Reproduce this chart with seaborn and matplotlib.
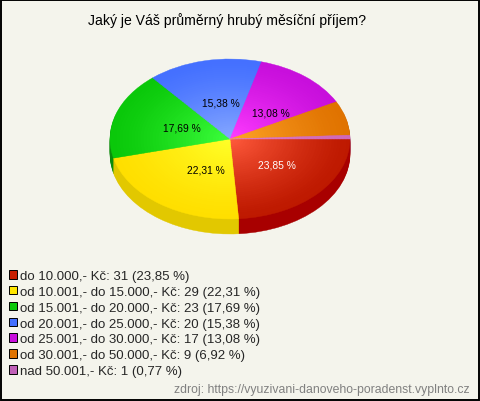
import numpy as np
import matplotlib
matplotlib.use("Agg")
import matplotlib.pyplot as plt
from matplotlib.colors import to_rgb
from matplotlib.patches import Patch, Rectangle
import seaborn as sns

# data
title = "Jaký je Váš průměrný hrubý měsíční příjem?"
source = "zdroj: https://vyuzivani-danoveho-poradenst.vyplnto.cz"
categories = ["do 10.000,- Kč", "od 10.001,- do 15.000,- Kč", "od 15.001,- do 20.000,- Kč",
              "od 20.001,- do 25.000,- Kč", "od 25.001,- do 30.000,- Kč",
              "od 30.001,- do 50.000,- Kč", "nad 50.001,- Kč"]
counts = [31, 29, 23, 20, 17, 9, 1]
percents = ["23,85 %", "22,31 %", "17,69 %", "15,38 %", "13,08 %", "6,92 %", "0,77 %"]

# colours: wedge centre, wedge rim, side wall, legend swatch
center_colors = ["#ff5a3c", "#ffff28", "#3cff3c", "#86a8ff", "#ff3cff", "#ffa528", "#e080c8"]
rim_colors = ["#be1900", "#ffdf00", "#0ac80a", "#4470ff", "#c80fdc", "#e07300", "#d068b8"]
side_colors = ["#a80000", "#e2c800", "#0a8c0a", "#2a50c0", "#9000a0", "#a85000", "#904890"]
swatch_colors = ["#c81e00", "#ffe600", "#0ac80a", "#4470ff", "#c80fdc", "#e07300", "#c060b8"]

bg = "#f4f4ec"
W, H = 480, 402
rx, ry, depth = 120, 80, 15

sns.set_theme(style="white")
plt.rcParams["font.family"] = ["Liberation Sans", "DejaVu Sans"]

fig = plt.figure(figsize=(W / 100, H / 100), dpi=100, facecolor=bg)

# pie axes: unit circle squeezed into the ellipse box, room below for the wall
pie_ax = fig.add_axes([110 / W, 1 - (220 + depth) / H, 2 * rx / W, (2 * ry + depth) / H])


def draw_pie(radius, colors, cy=0.0):
    wedges, _ = pie_ax.pie(counts, colors=colors, radius=radius, center=(0, cy), startangle=0,
                           counterclock=False)
    for w in wedges:
        w.set_edgecolor(w.get_facecolor())
        w.set_linewidth(0.3)


# side wall
for d in np.arange(depth, 0, -1):
    draw_pie(1.0, side_colors, cy=-d / ry)

# top face, radial shading from rim to centre
c0 = np.array([to_rgb(c) for c in center_colors])
c1 = np.array([to_rgb(c) for c in rim_colors])
levels = 40
for i in range(levels):
    t = i / (levels - 1)
    draw_pie(1.0 - 0.98 * t, [tuple(v) for v in c1 + (c0 - c1) * t ** 1.3])

pie_ax.set_aspect("auto")
pie_ax.set_xlim(-1, 1)
pie_ax.set_ylim(-1 - depth / ry, 1)
pie_ax.axis("off")

# overlay in pixel coordinates for the texts, legend and frame
ax = fig.add_axes([0, 0, 1, 1], facecolor="none")
ax.set_xlim(0, W)
ax.set_ylim(H, 0)
ax.axis("off")

ax.text(227, 21, title, ha="center", va="center", fontsize=10.1, color="black")

label_xy = [(277, 166), (206, 171), (182, 129), (221, 103), (271, 114)]
label_colors = ["white", "black", "black", "black", "black"]
for (x, y), txt, col in zip(label_xy, percents, label_colors):
    ax.text(x, y, txt, ha="center", va="center", fontsize=7.4, color=col)

handles = [Patch(facecolor=c, edgecolor="black", linewidth=0.7) for c in swatch_colors]
labels = [f"{n}: {k} ({p})" for n, k, p in zip(categories, counts, percents)]
ax.legend(handles, labels, loc="upper left", bbox_to_anchor=(9 / W, 1 - 271 / H),
          bbox_transform=ax.transAxes, frameon=False, fontsize=9.55, handlelength=0.62,
          handleheight=0.62, handletextpad=0.2, labelspacing=0.29, borderpad=0, borderaxespad=0)

ax.text(470, 390, source, ha="right", va="center", fontsize=8.8, color="#808080")

ax.add_patch(Rectangle((0.5, 0.5), W - 1.5, H - 2, fill=False, edgecolor="black", linewidth=1.4))

fig.savefig("out.png", dpi=100, facecolor=bg)
